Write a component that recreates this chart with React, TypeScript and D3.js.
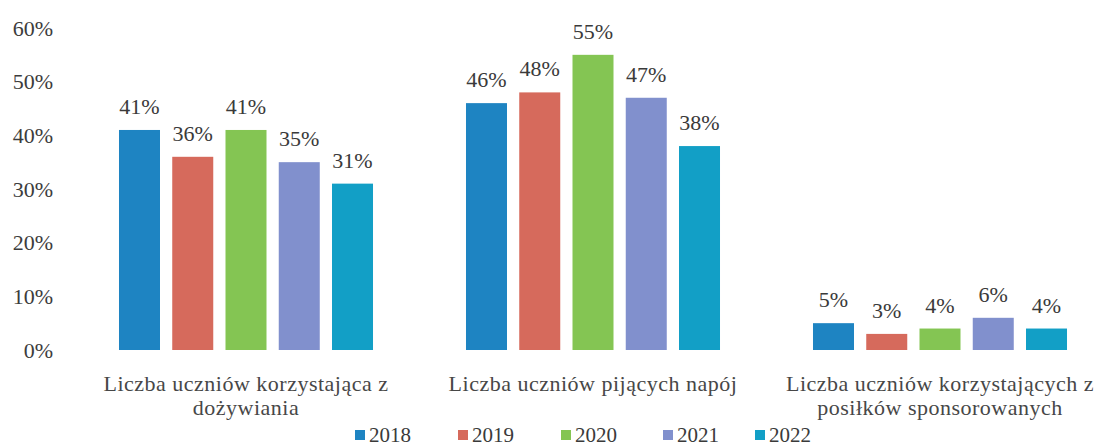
import React from "react";
import * as d3 from "d3";

const categories = [
  ["Liczba uczniów korzystająca z", "dożywiania"],
  ["Liczba uczniów pijących napój"],
  ["Liczba uczniów korzystających z", "posiłków sponsorowanych"],
];
const years = ["2018", "2019", "2020", "2021", "2022"];
const values = [
  [41, 36, 41, 35, 31],
  [46, 48, 55, 47, 38],
  [5, 3, 4, 6, 4],
];
const yTicks = [0, 10, 20, 30, 40, 50, 60];
const colors = ["#1e84c2", "#d66a5c", "#84c553", "#8190cd", "#129fc6"];

export default function App() {
  const W = 1103, H = 446;
  const y = d3.scaleLinear().domain([0, 60]).range([350, 28]);
  const x0 = d3.scaleBand<number>().domain([0, 1, 2]).range([72.5, 1113.5]).padding(0);
  const x1 = d3.scaleBand<string>().domain(years).range([0, x0.bandwidth()]).paddingInner(0.23).paddingOuter(0.873);
  const font = "'Liberation Serif', 'Times New Roman', Times, serif";
  const legendX = [355, 458, 561, 663, 755];
  return (
    <svg width={W} height={H} style={{ position: "absolute", left: 0, top: 0, background: "#fff", fontFamily: font }}>
      {yTicks.map((t) => (
        <text key={t} x={53} y={y(t)} dy="0.35em" textAnchor="end" fontSize={22} fill="#3c3c3c">{t}%</text>
      ))}
      {values.map((vals, gi) => (
        <g key={gi} transform={`translate(${x0(gi)},0)`}>
          {vals.map((v, i) => (
            <g key={i}>
              <rect x={x1(years[i])} y={y(v)} width={x1.bandwidth()} height={y(0) - y(v)} fill={colors[i]} />
              <text x={(x1(years[i]) as number) + x1.bandwidth() / 2} y={y(v) - 16} textAnchor="middle" fontSize={22} fill="#3a3a3a">{v}%</text>
            </g>
          ))}
          {categories[gi].map((line, li) => (
            <text key={li} x={x0.bandwidth() / 2} y={391 + li * 24} textAnchor="middle" fontSize={22} letterSpacing={0.5} fill="#474747">{line}</text>
          ))}
        </g>
      ))}
      {years.map((yr, i) => (
        <g key={yr}>
          <rect x={legendX[i]} y={430} width={10} height={10} fill={colors[i]} />
          <text x={legendX[i] + 14} y={442} fontSize={21} fill="#3a3a3a">{yr}</text>
        </g>
      ))}
    </svg>
  );
}
